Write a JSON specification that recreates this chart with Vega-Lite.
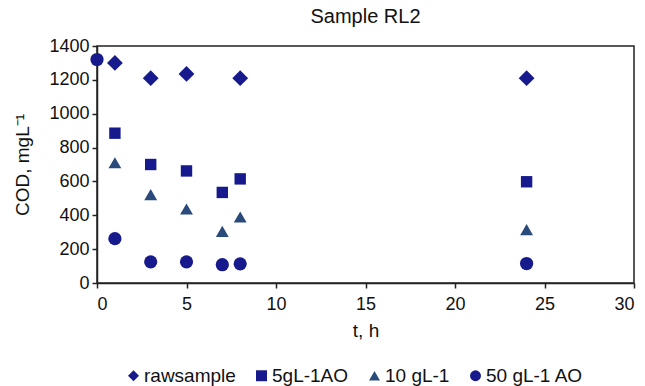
{
  "$schema": "https://vega.github.io/schema/vega-lite/v6.json",
  "width": 537,
  "height": 237,
  "autosize": {"type": "none"},
  "padding": {"left": 97, "top": 46, "right": 11, "bottom": 103},
  "title": {"text": "Sample RL2", "fontSize": 20, "font": "Liberation Sans", "fontWeight": "normal", "color": "#111", "offset": 10},
  "config": {
    "font": "Liberation Sans",
    "view": {"stroke": "#222", "strokeWidth": 1.5},
    "axis": {"domainColor": "#222", "domainWidth": 1.5, "tickColor": "#222", "tickWidth": 1.5, "tickSize": 5, "grid": false, "labelFontSize": 18, "labelColor": "#111", "titleFontSize": 19, "titleFontWeight": "normal", "titleColor": "#111", "labelFont": "Liberation Sans", "titleFont": "Liberation Sans"},
    "legend": {"labelFont": "Liberation Sans"}
  },
  "data": {
    "values": [
      {"series": "rawsample", "t": 1, "cod": 1300},
      {"series": "rawsample", "t": 3, "cod": 1210},
      {"series": "rawsample", "t": 5, "cod": 1235},
      {"series": "rawsample", "t": 8, "cod": 1210},
      {"series": "rawsample", "t": 24, "cod": 1210},
      {"series": "5gL-1AO", "t": 1, "cod": 885},
      {"series": "5gL-1AO", "t": 3, "cod": 700},
      {"series": "5gL-1AO", "t": 5, "cod": 662},
      {"series": "5gL-1AO", "t": 7, "cod": 535},
      {"series": "5gL-1AO", "t": 8, "cod": 615},
      {"series": "5gL-1AO", "t": 24, "cod": 598},
      {"series": "10 gL-1", "t": 1, "cod": 710},
      {"series": "10 gL-1", "t": 3, "cod": 522},
      {"series": "10 gL-1", "t": 5, "cod": 437},
      {"series": "10 gL-1", "t": 7, "cod": 305},
      {"series": "10 gL-1", "t": 8, "cod": 390},
      {"series": "10 gL-1", "t": 24, "cod": 315},
      {"series": "50 gL-1 AO", "t": 0, "cod": 1320},
      {"series": "50 gL-1 AO", "t": 1, "cod": 262},
      {"series": "50 gL-1 AO", "t": 3, "cod": 125},
      {"series": "50 gL-1 AO", "t": 5, "cod": 125},
      {"series": "50 gL-1 AO", "t": 7, "cod": 108},
      {"series": "50 gL-1 AO", "t": 8, "cod": 113},
      {"series": "50 gL-1 AO", "t": 24, "cod": 115}
    ]
  },
  "encoding": {
    "x": {"field": "t", "type": "quantitative", "scale": {"domain": [0, 30], "nice": false}, "axis": {"values": [0, 5, 10, 15, 20, 25, 30], "title": "t, h", "labelPadding": 7, "titlePadding": 8}},
    "y": {"field": "cod", "type": "quantitative", "scale": {"domain": [0, 1400], "nice": false}, "axis": {"values": [0, 200, 400, 600, 800, 1000, 1200, 1400], "format": "d", "title": "COD, mgL⁻¹", "labelPadding": 3, "titlePadding": 16}},
    "shape": {
      "field": "series", "type": "nominal",
      "scale": {"domain": ["rawsample", "5gL-1AO", "10 gL-1", "50 gL-1 AO"], "range": ["diamond", "square", "triangle-up", "circle"]},
      "legend": {"orient": "none", "legendX": 27, "legendY": 320, "direction": "horizontal", "columns": 4, "title": null, "labelFontSize": 19, "labelColor": "#111", "symbolSize": 120, "columnPadding": 16, "labelOffset": 1, "symbolStrokeWidth": 0}
    },
    "color": {
      "field": "series", "type": "nominal",
      "scale": {"domain": ["rawsample", "5gL-1AO", "10 gL-1", "50 gL-1 AO"], "range": ["#161a8c", "#161a8c", "#294a7b", "#161a8c"]},
      "legend": {"orient": "none", "legendX": 27, "legendY": 320, "direction": "horizontal", "columns": 4, "title": null, "labelFontSize": 19, "labelColor": "#111", "symbolSize": 120, "columnPadding": 16, "labelOffset": 1, "symbolStrokeWidth": 0}
    }
  },
  "layer": [
    {"transform": [{"filter": "datum.series === 'rawsample'"}], "mark": {"type": "point", "filled": true, "opacity": 1, "size": 250}},
    {"transform": [{"filter": "datum.series === '5gL-1AO'"}], "mark": {"type": "point", "filled": true, "opacity": 1, "size": 130}},
    {"transform": [{"filter": "datum.series === '10 gL-1'"}], "mark": {"type": "point", "filled": true, "opacity": 1, "size": 165}},
    {"transform": [{"filter": "datum.series === '50 gL-1 AO'"}], "mark": {"type": "point", "filled": true, "opacity": 1, "size": 175}}
  ]
}
